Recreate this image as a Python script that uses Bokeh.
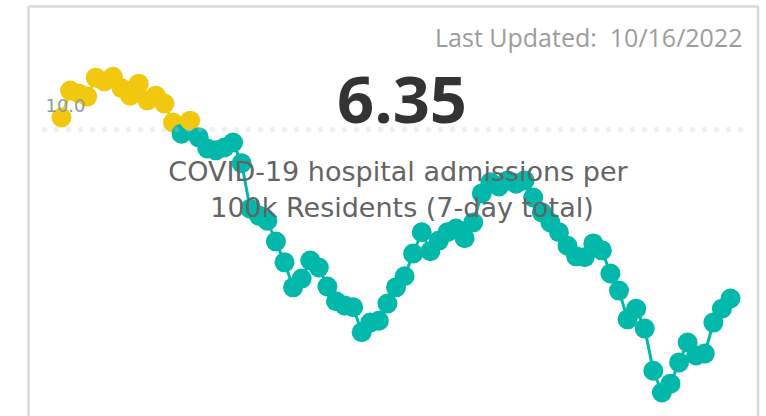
from bokeh.plotting import figure
from bokeh.models import Label, BoxAnnotation, ColumnDataSource, Range1d
from bokeh.embed import file_html
from bokeh.resources import INLINE

# ---- data ----
values = [10.26, 10.84, 10.78, 10.71, 11.12, 11.04, 11.14, 10.89, 10.73, 10.99,
          10.63, 10.73, 10.56, 10.15, 9.91, 10.19, 9.83, 9.59, 9.55, 9.61,
          9.72, 9.27, 8.29, 8.14, 8.03, 7.58, 7.13, 6.59, 6.78, 7.17,
          7.02, 6.61, 6.29, 6.20, 6.16, 5.62, 5.83, 5.87, 6.24, 6.59,
          6.83, 7.32, 7.78, 7.37, 7.60, 7.78, 7.86, 7.65, 7.99, 8.62,
          8.86, 8.77, 8.90, 8.83, 8.90, 8.53, 8.21, 7.99, 7.78, 7.49,
          7.26, 7.24, 7.54, 7.39, 6.89, 6.52, 5.90, 6.13, 5.70, 4.79,
          4.32, 4.51, 4.97, 5.40, 5.12, 5.16, 5.83, 6.13, 6.35]
days = list(range(len(values)))
threshold = 10.0
last_updated = "10/16/2022"
subtitle_1 = "COVID-19 hospital admissions per"
subtitle_2 = "100k Residents (7-day total)"

YELLOW = "#F2C80F"
TEAL = "#01B8AA"

colors = [YELLOW if v > threshold else TEAL for v in values]
seg_colors = [YELLOW if (a + b) / 2 > threshold else TEAL for a, b in zip(values[:-1], values[1:])]

W, H = 766, 416
p = figure(width=W, height=H, output_backend="svg", toolbar_location=None,
           x_axis_location=None, y_axis_location=None,
           min_border_left=0, min_border_right=0, min_border_top=0, min_border_bottom=0,
           x_range=Range1d(-7.112, 82.197), y_range=Range1d(3.801, 12.786))
p.grid.visible = False
p.outline_line_color = None
p.background_fill_color = "white"
p.border_fill_color = "white"

# card border (left, top, right; bottom is below the window)
p.add_layout(BoxAnnotation(left=28, right=757.5, bottom=-20, top=H - 6,
                           left_units="screen", right_units="screen",
                           bottom_units="screen", top_units="screen",
                           fill_alpha=0, line_color="#7d7d7d", line_width=2.5))

# dotted reference line at the threshold (zero-height box -> one row of dots)
p.add_layout(BoxAnnotation(left=44, right=44 + 12 * 58, bottom=threshold, top=threshold,
                           left_units="screen", right_units="screen",
                           fill_alpha=0, line_color="#c9c9c9", line_width=5.5,
                           line_dash="0 12", line_cap="round"))

seg = ColumnDataSource(dict(x0=days[:-1], y0=values[:-1], x1=days[1:], y1=values[1:], c=seg_colors))
p.segment("x0", "y0", "x1", "y1", source=seg, line_color="c", line_width=3)

pts = ColumnDataSource(dict(x=days, y=values, c=colors))
p.scatter("x", "y", source=pts, size=20, fill_color="c", line_color="c", line_width=0)

p.add_layout(Label(x=65, y=H + 6 - 111, x_units="screen", y_units="screen", text=f"{threshold:.1f}",
                   text_align="center", text_baseline="alphabetic",
                   text_font="DejaVu Sans", text_font_size="18px", text_color="#8f9a9a"))

p.add_layout(Label(x=742, y=H + 12 - 48, x_units="screen", y_units="screen",
                   text=f"Last Updated:\u00a0 {last_updated}",
                   text_align="right", text_baseline="alphabetic",
                   text_font="Open Sans", text_font_size="25px", text_color="#9c9c9c"))

p.add_layout(Label(x=401.5, y=H + 24 - 123, x_units="screen", y_units="screen",
                   text=f"{values[-1]:.2f}",
                   text_align="center", text_baseline="alphabetic",
                   text_font="Open Sans", text_font_style="bold",
                   text_font_size="65px", text_color="#333333"))

p.add_layout(Label(x=397.5, y=H + 11 - 182, x_units="screen", y_units="screen", text=subtitle_1,
                   text_align="center", text_baseline="alphabetic",
                   text_font="DejaVu Sans", text_font_size="27px", text_color="#646464"))
p.add_layout(Label(x=401.5, y=H + 11 - 218, x_units="screen", y_units="screen", text=subtitle_2,
                   text_align="center", text_baseline="alphabetic",
                   text_font="DejaVu Sans", text_font_size="27px", text_color="#646464"))

open("out.html", "w").write(file_html(p, INLINE))
